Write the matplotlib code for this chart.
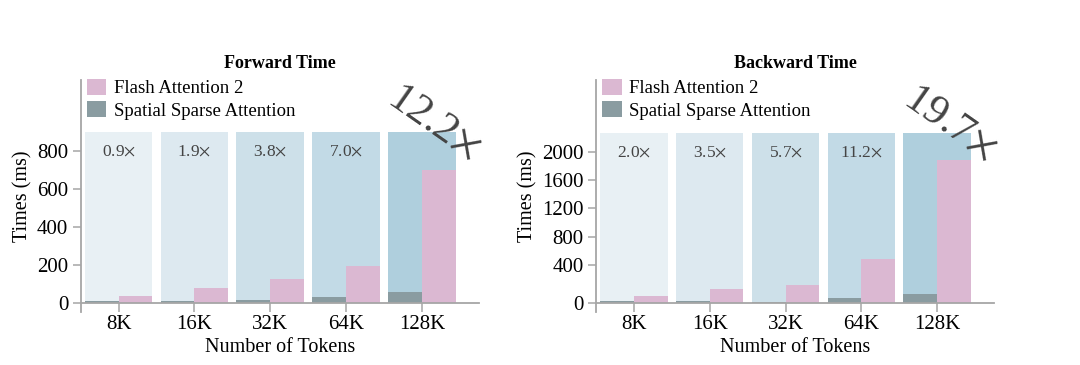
import numpy as np
import matplotlib
matplotlib.use("Agg")
import matplotlib.pyplot as plt

plt.rcParams['font.family'] = ['Liberation Serif', 'DejaVu Serif']
plt.rcParams['mathtext.fontset'] = 'stix'

tokens = ['8K', '16K', '32K', '64K', '128K']

# forward pass times (ms)
fwd_sparse = [9, 10, 14, 30, 58]
fwd_flash = [35, 78, 127, 196, 702]
fwd_speedup = ['0.9', '1.9', '3.8', '7.0', '12.2']
fwd_bg_top = 900

# backward pass times (ms)
bwd_sparse = [18, 18, 11, 47, 89]
bwd_flash = [74, 142, 191, 485, 1884]
bwd_speedup = ['2.0', '3.5', '5.7', '11.2', '19.7']
bwd_bg_top = 2260

bg_colors = ['#e8f0f4', '#dde9f0', '#cde0e9', '#c2dae6', '#afcfdd']
flash_color = '#dbb8d2'
sparse_color = '#8a9ca1'
axis_color = '#a6a6a6'
text_gray = '#444444'

# backward axis is stretched below 400
a_lo = 37.7 / 400
a_hi = 28.3 / 400


def bwd_fwd(v):
    v = np.asarray(v, dtype=float)
    return np.where(v < 400, v * a_lo, 400 * a_lo + (v - 400) * a_hi)


def bwd_inv(p):
    p = np.asarray(p, dtype=float)
    return np.where(p < 400 * a_lo, p / a_lo, 400 + (p - 400 * a_lo) / a_hi)


def draw(ax, sparse, flash, speedup, bg_top, title, yticks, ylim):
    x = np.arange(len(tokens))
    w = 0.445
    ax.bar(x, [bg_top] * len(x), width=2 * w, align='center',
           color=bg_colors, zorder=1, linewidth=0)
    ax.bar(x, sparse, width=-w, align='edge', color=sparse_color, zorder=2,
           linewidth=0, label='Spatial Sparse Attention')
    ax.bar(x, flash, width=w, align='edge', color=flash_color, zorder=2,
           linewidth=0, label='Flash Attention 2')

    for i, s in enumerate(speedup[:-1]):
        ax.annotate(s + r'$\times$', xy=(i, bg_top), xytext=(0, -14),
                    textcoords='offset points', ha='center', va='center',
                    fontsize=12.5, color=text_gray)
    ax.annotate(speedup[-1] + r'$\times$', xy=(x[-1], bg_top), xytext=(9, 7),
                textcoords='offset points', ha='center', va='center',
                fontsize=31, color=text_gray, rotation=-35,
                rotation_mode='anchor', zorder=5)

    ax.set_xlim(-0.5, 4.75)
    ax.set_ylim(*ylim)
    ax.set_xticks(x)
    ax.set_xticklabels(tokens)
    ax.set_yticks(yticks)
    ax.set_yticklabels([str(t) for t in yticks])

    for s in ['top', 'right']:
        ax.spines[s].set_visible(False)
    ax.spines['bottom'].set_position(('data', 0))
    for s in ['left', 'bottom']:
        ax.spines[s].set_color(axis_color)
        ax.spines[s].set_linewidth(1.3)
    ax.tick_params(axis='both', colors=axis_color, labelcolor='black',
                   labelsize=15, width=1.1)
    ax.tick_params(axis='x', length=6.5, pad=2)
    ax.tick_params(axis='y', length=6, pad=3)

    ax.set_title(title, fontsize=13, fontweight='bold', pad=9)
    ax.set_xlabel('Number of Tokens', fontsize=14.5, labelpad=3)
    ax.set_ylabel('Times (ms)', fontsize=14.5, labelpad=3)

    handles, labels = ax.get_legend_handles_labels()
    ax.legend(handles[::-1], labels[::-1], loc='upper left',
              bbox_to_anchor=(0.015, 1.005), frameon=False, fontsize=13.5,
              handlelength=1.05, handleheight=0.95, labelspacing=0.2,
              handletextpad=0.4, borderpad=0, borderaxespad=0)


fig = plt.figure(figsize=(10.8, 3.65), dpi=100)
ax1 = fig.add_axes([0.0747, 0.146, 0.3685, 0.6348])
ax2 = fig.add_axes([0.5519, 0.146, 0.3685, 0.6348])
ax2.set_yscale('function', functions=(bwd_fwd, bwd_inv))

draw(ax1, fwd_sparse, fwd_flash, fwd_speedup, fwd_bg_top, 'Forward Time',
     [0, 200, 400, 600, 800], (-47.6, 1177))
draw(ax2, bwd_sparse, bwd_flash, bwd_speedup, bwd_bg_top, 'Backward Time',
     [0, 400, 800, 1200, 1600, 2000], (-95, 3015))

fig.savefig('out.png', dpi=100)
